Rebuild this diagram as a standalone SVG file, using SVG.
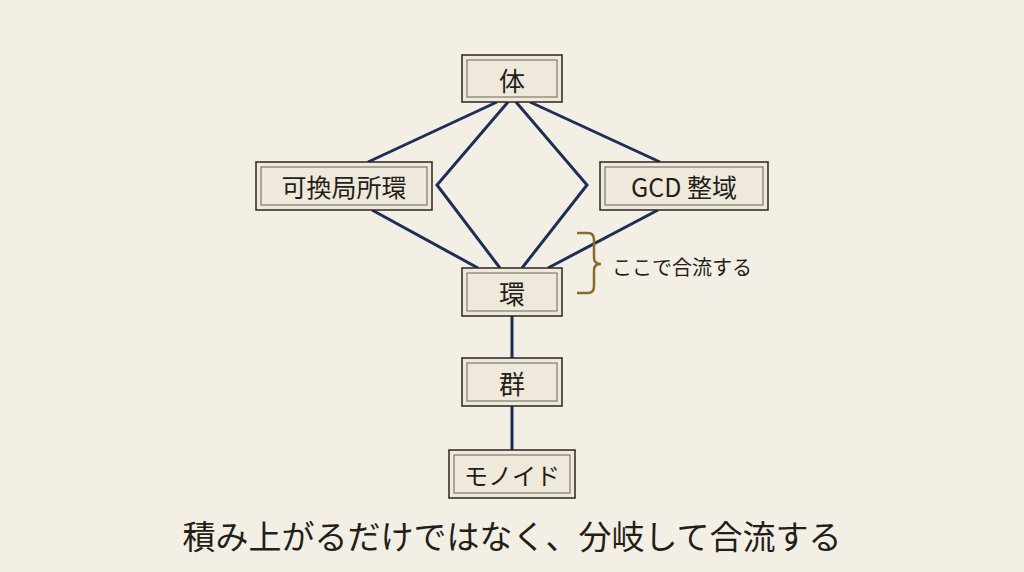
<svg xmlns="http://www.w3.org/2000/svg" width="1024" height="572" viewBox="0 0 1024 572">
<style>
.box{fill:#efe9dc;stroke:#2a241e;stroke-width:1.5}
.inner{fill:none;stroke:#6a6258;stroke-width:1}
.t{font-family:"Noto Sans CJK JP","Liberation Serif",serif;fill:#231e1a;text-anchor:middle;dominant-baseline:central}
.e{stroke:#1d2f57;stroke-width:3;fill:none;stroke-linejoin:miter}
</style>
<rect width="1024" height="572" fill="#f3efe4"/>
<g id="connectors">
<path class="e" d="M497,102 L368,162"/>
<path class="e" d="M508,102 L437,185 L500,268"/>
<path class="e" d="M516,102 L587,185 L522,268"/>
<path class="e" d="M530,102 L660,162"/>
<path class="e" d="M372,210 L478,268"/>
<path class="e" d="M658,210 L548,268"/>
<path class="e" d="M512,316 L512,358"/>
<path class="e" d="M512,406 L512,450"/>
</g>
<g id="n_tai"><rect class="box" x="462" y="55" width="100" height="47"/><rect class="inner" x="467" y="60" width="90" height="37"/><text class="t" x="512" y="79" font-size="26">体</text></g>
<g id="n_local"><rect class="box" x="256" y="162" width="176" height="48"/><rect class="inner" x="261" y="167" width="166" height="38"/><text class="t" x="344" y="186" font-size="25">可換局所環</text></g>
<g id="n_gcd"><rect class="box" x="600" y="162" width="168" height="48"/><rect class="inner" x="605" y="167" width="158" height="38"/><text class="t" x="684" y="186" font-size="25">GCD 整域</text></g>
<g id="n_ring"><rect class="box" x="462" y="268" width="100" height="48"/><rect class="inner" x="467" y="273" width="90" height="38"/><text class="t" x="512" y="292" font-size="26">環</text></g>
<g id="n_group"><rect class="box" x="462" y="358" width="100" height="48"/><rect class="inner" x="467" y="363" width="90" height="38"/><text class="t" x="512" y="382" font-size="26">群</text></g>
<g id="n_monoid"><rect class="box" x="449" y="450" width="126" height="48"/><rect class="inner" x="454" y="455" width="116" height="38"/><text class="t" x="512" y="474" font-size="24">モノイド</text></g>
<g id="brace"><path d="M577,233 L588,233 Q594,233 594,240 L594,258 Q594,264 601,264 Q594,264 594,270 L594,286 Q594,293 588,293 L577,293" fill="none" stroke="#8a6a2a" stroke-width="2.5"/>
<text class="t" x="612" y="266" font-size="20" style="text-anchor:start">ここで合流する</text></g>
<text class="t" x="512" y="535" font-size="33">積み上がるだけではなく、分岐して合流する</text>
</svg>
